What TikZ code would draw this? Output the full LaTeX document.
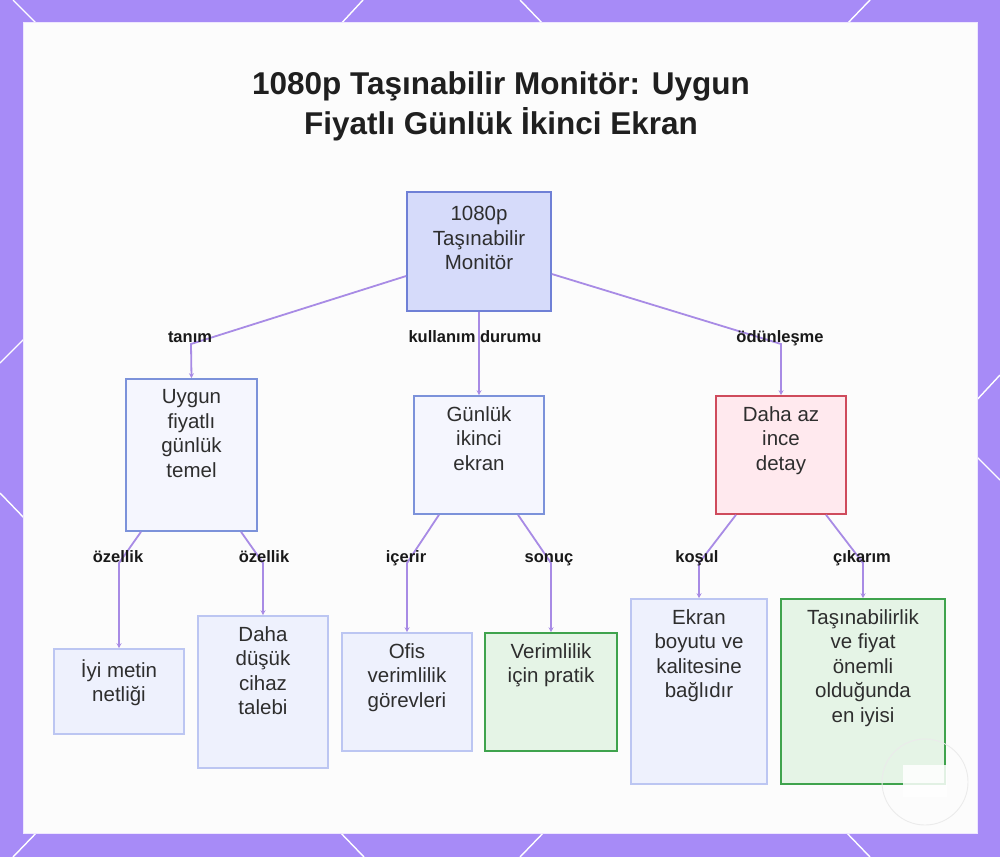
\documentclass[tikz,border=0pt]{standalone}
\usepackage{fontspec}
\setmainfont{Liberation Sans}
\usetikzlibrary{arrows.meta}
\definecolor{bgpurple}{HTML}{A78BF7}
\definecolor{panelline}{HTML}{EEE6FF}
\definecolor{rootfill}{HTML}{D6DBFA}
\definecolor{rootdraw}{HTML}{6F80D6}
\definecolor{midfill}{HTML}{F5F6FE}
\definecolor{middraw}{HTML}{7C92DA}
\definecolor{redfill}{HTML}{FFE9EE}
\definecolor{reddraw}{HTML}{CF4B5C}
\definecolor{leaffill}{HTML}{EEF1FD}
\definecolor{leafdraw}{HTML}{BCC6F2}
\definecolor{greenfill}{HTML}{E5F4E6}
\definecolor{greendraw}{HTML}{3FA34D}
\definecolor{edgecol}{HTML}{A88BE5}
\definecolor{txt}{HTML}{2E2E2E}
\tikzset{
  box/.style={draw, line width=1.6pt, rectangle, inner sep=0pt},
  rootbox/.style={box, fill=rootfill, draw=rootdraw},
  midbox/.style={box, fill=midfill, draw=middraw},
  redbox/.style={box, fill=redfill, draw=reddraw},
  leafbox/.style={box, fill=leaffill, draw=leafdraw},
  greenbox/.style={box, fill=greenfill, draw=greendraw},
  boxtext/.style={anchor=north, align=center, inner sep=0pt, text=txt,
    font={\fontsize{20.5}{24.5}\selectfont}, execute at begin node={\rule{0pt}{18pt}}},
  elab/.style={font={\fontsize{16.5}{18}\selectfont\bfseries}, text=black!90, inner sep=0pt, anchor=base},
  edge/.style={draw=edgecol, line width=1.8pt, -{Stealth[length=5pt,width=5pt]}},
  deco/.style={draw=white, line width=1.4pt},
}
\begin{document}
\begin{tikzpicture}[x=1pt,y=-1pt]
\useasboundingbox (0,0) rectangle (1000,857);
% background frame
\fill[bgpurple] (0,0) rectangle (1000,857);
\draw[deco] (13,0) -- (40,27);
\draw[deco] (363,0) -- (338,27);
\draw[deco] (520,0) -- (546,27);
\draw[deco] (870,0) -- (844,27);
\draw[deco] (40,829) -- (13,857);
\draw[deco] (337,829) -- (364,857);
\draw[deco] (547,829) -- (520,857);
\draw[deco] (843,829) -- (870,857);
\draw[deco] (0,363) -- (27,336);
\draw[deco] (0,493) -- (27,521);
\draw[deco] (973,404) -- (1000,375);
\draw[deco] (973,453) -- (1000,480);
\fill[white!98!gray, draw=panelline, line width=1pt] (23,22) rectangle (977,833);
% title
\node[font={\fontsize{31.5}{40}\selectfont\bfseries}, text=black!88, align=center, inner sep=0pt] (title) at (501,106)
  {1080p Taşınabilir Monitör: Uygun\\Fiyatlı Günlük İkinci Ekran};
% boxes
\node[rootbox, minimum width=144pt, minimum height=119pt] (root) at (479,251.5) {};
\node[midbox, minimum width=131pt, minimum height=152pt] (A) at (191.5,455) {};
\node[midbox, minimum width=130pt, minimum height=118pt] (B) at (479,455) {};
\node[redbox, minimum width=130pt, minimum height=118pt] (C) at (781,455) {};
\node[leafbox, minimum width=130pt, minimum height=85pt] (D) at (119,691.5) {};
\node[leafbox, minimum width=130pt, minimum height=152pt] (E) at (263,692) {};
\node[leafbox, minimum width=130pt, minimum height=118pt] (F) at (407,692) {};
\node[greenbox, minimum width=132pt, minimum height=118pt] (G) at (551,692) {};
\node[leafbox, minimum width=136pt, minimum height=185pt] (H) at (699,691.5) {};
\node[greenbox, minimum width=164pt, minimum height=185pt] (I) at (863,691.5) {};
% box texts
\node[boxtext] (troot) at ([yshift=-15pt]root.north) {1080p\\Taşınabilir\\Monitör};
\node[boxtext] (tA) at ([yshift=-11pt]A.north) {Uygun\\fiyatlı\\günlük\\temel};
\node[boxtext] (tB) at ([yshift=-11pt]B.north) {Günlük\\ikinci\\ekran};
\node[boxtext] (tC) at ([yshift=-11pt]C.north) {Daha az\\ince\\detay};
\node[boxtext] (tD) at ([yshift=-11pt]D.north) {İyi metin\\netliği};
\node[boxtext] (tE) at ([yshift=-11pt]E.north) {Daha\\düşük\\cihaz\\talebi};
\node[boxtext] (tF) at ([yshift=-11pt]F.north) {Ofis\\verimlilik\\görevleri};
\node[boxtext] (tG) at ([yshift=-11pt]G.north) {Verimlilik\\için pratik};
\node[boxtext] (tH) at ([yshift=-11pt]H.north) {Ekran\\boyutu ve\\kalitesine\\bağlıdır};
\node[boxtext] (tI) at ([yshift=-11pt]I.north) {Taşınabilirlik\\ve fiyat\\önemli\\olduğunda\\en iyisi};
% edges
\draw[edge] ([yshift=-24.5pt]root.west) -- (191,344) -- (A.north);
\draw[edge] (root.south) -- (B.north);
\draw[edge] ([yshift=-22.5pt]root.east) -- (781,344) -- (C.north);
\draw[edge] ([xshift=-50.5pt]A.south) -- (119,563) -- (D.north);
\draw[edge] ([xshift=49.5pt]A.south) -- (263,563) -- (E.north);
\draw[edge] ([xshift=-40pt]B.south) -- (407,563) -- (F.north);
\draw[edge] ([xshift=39pt]B.south) -- (551,563) -- (G.north);
\draw[edge] ([xshift=-45pt]C.south) -- (699,563) -- (H.north);
\draw[edge] ([xshift=45pt]C.south) -- (863,563) -- (I.north);
% edge labels
\node[elab] (l1) at (190,342) {tanım};
\node[elab] (l2) at (475,342) {kullanım durumu};
\node[elab] (l3) at (780,342) {ödünleşme};
\node[elab] (l4) at (118,562) {özellik};
\node[elab] (l5) at (264,562) {özellik};
\node[elab] (l6) at (406,562) {içerir};
\node[elab] (l7) at (549,562) {sonuç};
\node[elab] (l8) at (697,562) {koşul};
\node[elab] (l9) at (862,562) {çıkarım};
% overlay badge
\fill[white, opacity=0.85] (903,765) rectangle (947,797);
\draw[black!8, line width=0.9pt] (925,782) circle (43);
\end{tikzpicture}
\end{document}
